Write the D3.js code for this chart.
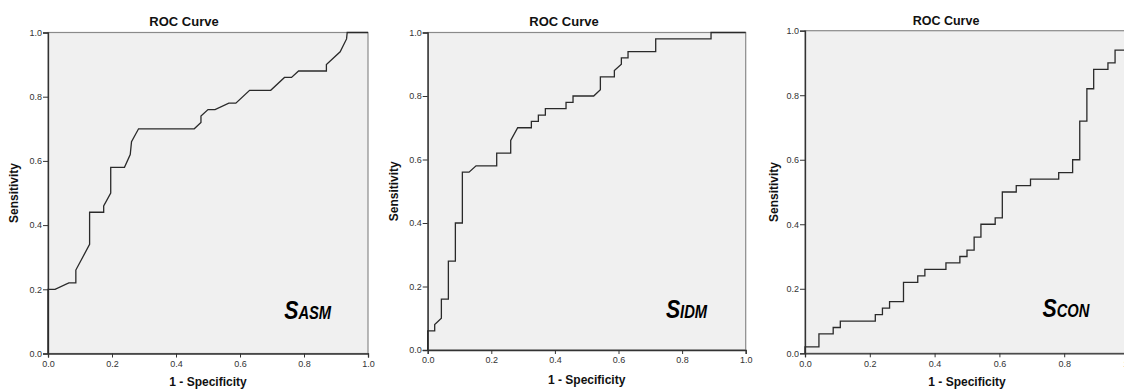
<!DOCTYPE html>
<html><head><meta charset="utf-8">
<script src="https://cdn.jsdelivr.net/npm/d3@7"></script>
<style>
html,body{margin:0;padding:0;background:#fff;}
svg{display:block;}
text{font-family:"Liberation Sans",Arial,sans-serif;}
</style></head>
<body><svg id="c" width="1124" height="389"></svg>
<script>
const tickValues = [0, 0.2, 0.4, 0.6, 0.8, 1.0];
const titles = ["ROC Curve", "ROC Curve", "ROC Curve"];
const xLabel = "1 - Specificity";
const yLabel = "Sensitivity";
const labelMain = ["S", "S", "S"];
const labelSub = ["ASM", "IDM", "CON"];

const asmFpr = [0,0,0.022,0.065,0.087,0.087,0.130,0.130,0.174,0.174,0.196,0.196,0.239,0.257,0.261,0.283,0.457,0.478,0.478,0.500,0.522,0.565,0.587,0.630,0.696,0.739,0.761,0.783,0.870,0.870,0.913,0.933,0.935,1.0];
const asmTpr = [0,0.20,0.20,0.22,0.22,0.26,0.34,0.44,0.44,0.46,0.50,0.58,0.58,0.62,0.66,0.70,0.70,0.72,0.74,0.76,0.76,0.78,0.78,0.82,0.82,0.86,0.86,0.88,0.88,0.90,0.94,0.98,1.00,1.00];

const idmFpr = [0,0,0.022,0.022,0.043,0.043,0.065,0.065,0.087,0.087,0.109,0.109,0.130,0.152,0.217,0.217,0.261,0.261,0.283,0.326,0.326,0.348,0.348,0.370,0.370,0.435,0.435,0.457,0.457,0.522,0.543,0.543,0.587,0.587,0.609,0.609,0.630,0.630,0.717,0.717,0.891,0.891,1.0];
const idmTpr = [0,0.06,0.06,0.08,0.10,0.16,0.16,0.28,0.28,0.40,0.40,0.56,0.56,0.58,0.58,0.62,0.62,0.66,0.70,0.70,0.72,0.72,0.74,0.74,0.76,0.76,0.78,0.78,0.80,0.80,0.82,0.86,0.86,0.88,0.90,0.92,0.92,0.94,0.94,0.98,0.98,1.00,1.00];

const conFpr = [0,0,0.043,0.043,0.087,0.087,0.109,0.109,0.217,0.217,0.239,0.239,0.261,0.261,0.304,0.304,0.348,0.348,0.370,0.370,0.435,0.435,0.478,0.478,0.500,0.500,0.522,0.522,0.543,0.543,0.587,0.587,0.609,0.609,0.652,0.652,0.696,0.696,0.783,0.783,0.826,0.826,0.848,0.848,0.870,0.870,0.891,0.891,0.935,0.935,0.957,0.957,1.0,1.0];
const conTpr = [0,0.02,0.02,0.06,0.06,0.08,0.08,0.10,0.10,0.12,0.12,0.14,0.14,0.16,0.16,0.22,0.22,0.24,0.24,0.26,0.26,0.28,0.28,0.30,0.30,0.32,0.32,0.36,0.36,0.40,0.40,0.42,0.42,0.50,0.50,0.52,0.52,0.54,0.54,0.56,0.56,0.60,0.60,0.72,0.72,0.82,0.82,0.88,0.88,0.90,0.90,0.94,0.94,1.00];

const series = [[asmFpr, asmTpr], [idmFpr, idmTpr], [conFpr, conTpr]];

// layout (pixels)
const panels = [
  {left:48,    top:32.5, w:320, h:321, titleX:184, titleY:26,   titleSize:13,   yLabX:14,  xLabY:386, lab:[0.738,0.109]},
  {left:427.7, top:32.5, w:318, h:317.5, titleX:564, titleY:26, titleSize:13,   yLabX:394, xLabY:384, lab:[0.749,0.101]},
  {left:805,   top:30.7, w:324, h:322.6, titleX:946, titleY:24.5, titleSize:12.5, yLabX:774, xLabY:386, lab:[0.733,0.111]}
];

const svg = d3.select("#c");

panels.forEach((p, i) => {
  const x = d3.scaleLinear().domain([0, 1]).range([p.left, p.left + p.w]);
  const y = d3.scaleLinear().domain([0, 1]).range([p.top + p.h, p.top]);

  svg.append("rect")
    .attr("x", x(0)).attr("y", y(1))
    .attr("width", x(1) - x(0)).attr("height", y(0) - y(1))
    .attr("fill", "#f0f0f0").attr("stroke", "#8a8a8a").attr("stroke-width", 1.2);

  const ax = svg.append("g").attr("transform", `translate(0,${y(0)})`)
    .call(d3.axisBottom(x).tickValues(tickValues).tickFormat(d3.format(".1f")).tickSize(4).tickPadding(3));
  const ay = svg.append("g").attr("transform", `translate(${x(0)},0)`)
    .call(d3.axisLeft(y).tickValues(tickValues).tickFormat(d3.format(".1f")).tickSize(5).tickPadding(1));
  [ax, ay].forEach(g => {
    g.select(".domain").attr("stroke", "#333").attr("stroke-width", 1.3);
    g.selectAll(".tick line").attr("stroke", "#333").attr("stroke-width", 1);
    g.selectAll(".tick text").attr("font-size", 9).attr("fill", "#333")
      .attr("font-family", "'Liberation Sans', Arial, sans-serif");
  });

  const [fx, fy] = series[i];
  const pts = fx.map((v, k) => [v, fy[k]]);
  svg.append("path")
    .datum(pts)
    .attr("d", d3.line().x(d => x(d[0])).y(d => y(d[1])))
    .attr("fill", "none").attr("stroke", "#2a2a2a").attr("stroke-width", 1.3)
    .attr("stroke-linejoin", "miter");

  svg.append("text").attr("x", p.titleX).attr("y", p.titleY)
    .attr("text-anchor", "middle").attr("font-weight", "bold")
    .attr("font-size", p.titleSize).attr("fill", "#111").text(titles[i]);

  svg.append("text").attr("x", (x(0) + x(1)) / 2).attr("y", p.xLabY)
    .attr("text-anchor", "middle").attr("font-weight", "bold")
    .attr("font-size", 12).attr("fill", "#111").text(xLabel);

  svg.append("text")
    .attr("transform", `translate(${p.yLabX + 4},${(y(0) + y(1)) / 2}) rotate(-90)`)
    .attr("text-anchor", "middle").attr("font-weight", "bold")
    .attr("font-size", 12).attr("fill", "#111").text(yLabel);

  const lx = x(p.lab[0]), ly = y(p.lab[1]);
  const t = svg.append("text")
    .attr("transform", `translate(${lx},${ly}) scale(0.82,1)`)
    .attr("font-weight", "bold").attr("font-style", "italic").attr("fill", "#000");
  t.append("tspan").attr("font-size", 26).text(labelMain[i]);
  t.append("tspan").attr("font-size", 18).text(labelSub[i]);
});
</script>
</body></html>
